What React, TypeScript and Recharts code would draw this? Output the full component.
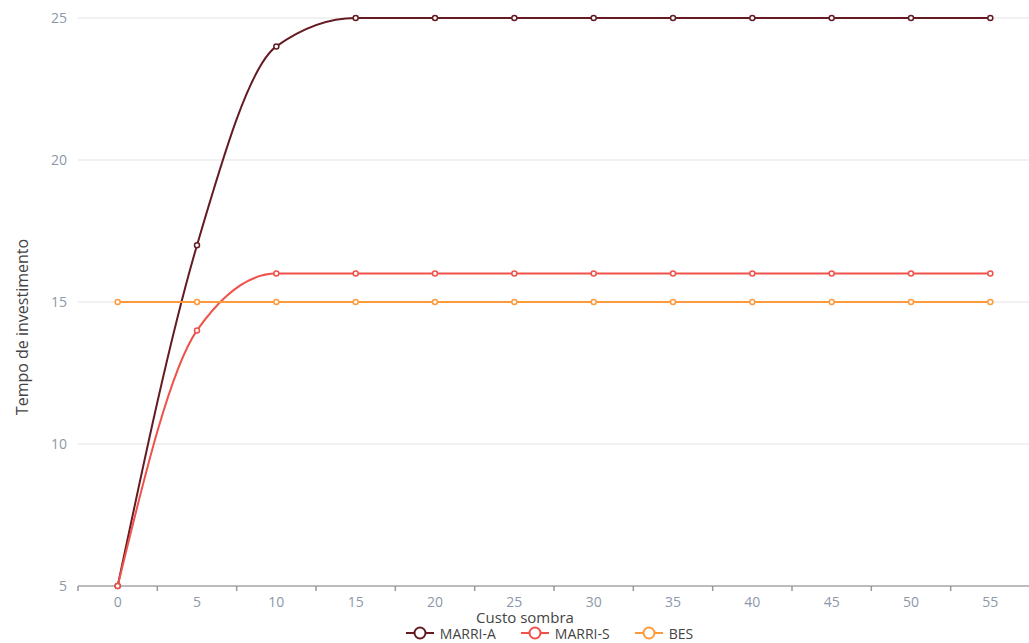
import React from "react";
import { LineChart, Line, XAxis, YAxis, CartesianGrid, Legend } from "recharts";

const custoSombra = [0, 5, 10, 15, 20, 25, 30, 35, 40, 45, 50, 55];
const marriA = [5, 17, 24, 25, 25, 25, 25, 25, 25, 25, 25, 25];
const marriS = [5, 14, 16, 16, 16, 16, 16, 16, 16, 16, 16, 16];
const bes = [15, 15, 15, 15, 15, 15, 15, 15, 15, 15, 15, 15];
const yTicks = [5, 10, 15, 20, 25];

const series = [
  { key: "marriA", name: "MARRI-A", color: "#651b22" },
  { key: "marriS", name: "MARRI-S", color: "#f0514b" },
  { key: "bes", name: "BES", color: "#ff9a3c" },
];

const data = custoSombra.map((x, i) => ({ x, marriA: marriA[i], marriS: marriS[i], bes: bes[i] }));

const FONT = "'Open Sans', 'Noto Sans', sans-serif";

function XTick(props: any) {
  const { x, y, payload, width } = props;
  const half = width / custoSombra.length / 2;
  return (
    <g>
      <line x1={x - half} x2={x - half} y1={y} y2={y + 5} stroke="#999" strokeWidth={1.5} />
      <text x={x} y={y + 21} textAnchor="middle" fill="#8c98aa" fontSize={14} fontFamily={FONT}>
        {payload.value}
      </text>
    </g>
  );
}

function LegendContent() {
  return (
    <div style={{ display: "flex", justifyContent: "center", gap: 24, height: 20, alignItems: "center", paddingLeft: 68, fontFamily: FONT, fontSize: 14, lineHeight: "15px", color: "#444" }}>
      {series.map(s => (
        <div key={s.key} style={{ display: "flex", alignItems: "center", gap: 5 }}>
          <svg width={30} height={14}>
            <line x1={1} x2={29} y1={7} y2={7} stroke={s.color} strokeWidth={2} />
            <circle cx={15} cy={7} r={5.5} fill="#fff" stroke={s.color} strokeWidth={2} />
          </svg>
          <span>{s.name}</span>
        </div>
      ))}
    </div>
  );
}

export default function App() {
  return (
    <div style={{ position: "absolute", left: 0, top: 0, background: "#fff" }}>
      <LineChart width={1029} height={643} data={data} margin={{ top: 18, right: -1, left: 0, bottom: 0 }}>
        <CartesianGrid vertical={false} stroke="#ececec" strokeWidth={1.5} />
        <XAxis
          dataKey="x"
          type="number"
          domain={[-2.5, 57.5]}
          ticks={custoSombra}
          interval={0}
          tickLine={false}
          tickSize={0}
          tickMargin={0}
          height={37}
          axisLine={{ stroke: "#aaa", strokeWidth: 1.5 }}
          tick={<XTick />}
          label={{ value: "Custo sombra", position: "insideBottom", offset: 0, dx: -29, fill: "#444", fontSize: 15, fontFamily: FONT }}
        />
        <YAxis
          type="number"
          domain={[5, 25]}
          ticks={yTicks}
          width={78}
          axisLine={false}
          tickLine={false}
          tickSize={0}
          tickMargin={11}
          tick={{ fill: "#8c98aa", fontSize: 14, fontFamily: FONT }}
          label={{ value: "Tempo de investimento", angle: -90, position: "insideLeft", offset: 22, dy: 25, fill: "#444", fontSize: 16, fontFamily: FONT, style: { textAnchor: "middle" } }}
        />
        <Legend verticalAlign="bottom" content={<LegendContent />} />
        {series.map(s => (
          <Line
            key={s.key}
            dataKey={s.key}
            name={s.name}
            type="monotone"
            stroke={s.color}
            strokeWidth={2}
            dot={{ r: 2.5, fill: "#fff", stroke: s.color, strokeWidth: 1.5 }}
            activeDot={false}
            isAnimationActive={false}
          />
        ))}
      </LineChart>
    </div>
  );
}
